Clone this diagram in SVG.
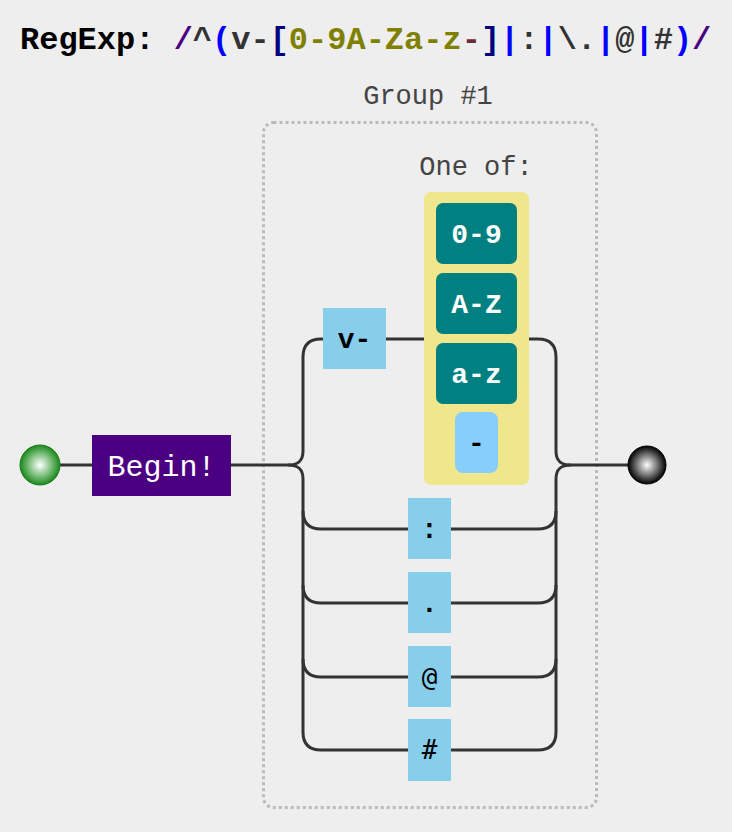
<svg xmlns="http://www.w3.org/2000/svg" width="732" height="832" viewBox="0 0 732 832">
<defs>
<radialGradient id="gStart" cx="50%" cy="50%" r="50%"><stop offset="0" stop-color="#ffffff"/><stop offset="1" stop-color="#1a8a1a"/></radialGradient>
<radialGradient id="gEnd" cx="50%" cy="50%" r="50%"><stop offset="0" stop-color="#ffffff"/><stop offset="1" stop-color="#000000"/></radialGradient>
<style>
text{font-family:"Liberation Mono","DejaVu Sans Mono",monospace;}
.conn{fill:none;stroke:#333;stroke-width:3;}
.lit{fill:#87ceeb;}
.cls{fill:#008080;}
.lbl{font-size:27px;fill:#444;text-anchor:middle;}
.lt{font-size:28px;font-weight:bold;fill:#000;text-anchor:middle;}
.ct{font-size:28px;font-weight:bold;fill:#fff;text-anchor:middle;}
</style>
</defs>
<rect width="732" height="832" fill="#eeeeee"/>
<g id="title">
<text x="20" y="49" font-size="32" font-weight="bold"><tspan fill="#000">RegExp: </tspan><tspan fill="#4b0082">/</tspan><tspan fill="#333">^</tspan><tspan fill="#0000ff">(</tspan><tspan fill="#333">v-</tspan><tspan fill="#000080">[</tspan><tspan fill="#808000">0-9A-Za-z</tspan><tspan fill="#6b2b3b">-</tspan><tspan fill="#000080">]</tspan><tspan fill="#0000ff">|</tspan><tspan fill="#333">:</tspan><tspan fill="#0000ff">|</tspan><tspan fill="#333">\.</tspan><tspan fill="#0000ff">|</tspan><tspan fill="#333">@</tspan><tspan fill="#0000ff">|</tspan><tspan fill="#333">#</tspan><tspan fill="#0000ff">)</tspan><tspan fill="#4b0082">/</tspan></text>
</g>
<g id="group1">
<rect x="263.5" y="122.5" width="333" height="685" rx="10" fill="none" stroke="#bbb" stroke-width="3" stroke-dasharray="3 3"/>
<text class="lbl" x="428" y="104">Group #1</text>
</g>
<g id="connectors">
<path class="conn" d="M60,465 H92"/>
<path class="conn" d="M231,465 H288 c10,0 15,-4 15,-14 V357 c0,-12 6,-18 18,-18 H323"/>
<path class="conn" d="M386,339 H424"/>
<path class="conn" d="M529,339 H538 c12,0 18,6 18,18 V451 c0,10 5,14 15,14 H628"/>
<path class="conn" d="M288,465 c10,0 15,4 15,14 V511 c0,12 6,18 18,18 H408 M451,529 H538 c12,0 18,-6 18,-18 V479 c0,-10 5,-14 15,-14"/>
<path class="conn" d="M303,511 V585 c0,12 6,18 18,18 H408 M451,603 H538 c12,0 18,-6 18,-18 V511"/>
<path class="conn" d="M303,585 V659 c0,12 6,18 18,18 H408 M451,677 H538 c12,0 18,-6 18,-18 V585"/>
<path class="conn" d="M303,659 V732 c0,12 6,18 18,18 H408 M451,750 H538 c12,0 18,-6 18,-18 V659"/>
</g>
<g id="start"><circle cx="40" cy="465" r="20" fill="url(#gStart)" stroke="#1a7a1a" stroke-width="1"/></g>
<g id="begin">
<rect x="92" y="435" width="139" height="61" fill="#4b0082"/>
<text x="161.5" y="476" font-size="30" fill="#fff" text-anchor="middle">Begin!</text>
</g>
<g id="lit-v">
<rect class="lit" x="323" y="308" width="63" height="61"/>
<text class="lt" x="354.5" y="348">v-</text>
</g>
<g id="oneof">
<text class="lbl" x="476" y="175">One of:</text>
<rect x="424" y="192" width="105" height="293" rx="7" fill="#f0e68c"/>
</g>
<g id="cls-09"><rect class="cls" x="436" y="203" width="81" height="61" rx="7"/><text class="ct" x="476.5" y="243">0-9</text></g>
<g id="cls-AZ"><rect class="cls" x="436" y="273" width="81" height="61" rx="7"/><text class="ct" x="476.5" y="313">A-Z</text></g>
<g id="cls-az"><rect class="cls" x="436" y="343" width="81" height="61" rx="7"/><text class="ct" x="476.5" y="383">a-z</text></g>
<g id="cls-dash"><rect x="455" y="412" width="43" height="61" rx="8" fill="#87cefa"/><text class="lt" x="476.5" y="452">-</text></g>
<g id="lit-colon"><rect class="lit" x="408" y="498" width="43" height="61"/><text class="lt" x="429.5" y="538">:</text></g>
<g id="lit-dot"><rect class="lit" x="408" y="572" width="43" height="61"/><text class="lt" x="429.5" y="612">.</text></g>
<g id="lit-at"><rect class="lit" x="408" y="646" width="43" height="61"/><text x="429.5" y="686" font-size="26" fill="#000" text-anchor="middle" style="font-family:'DejaVu Sans Mono',monospace">@</text></g>
<g id="lit-hash"><rect class="lit" x="408" y="719" width="43" height="62"/><text x="429.5" y="759" font-size="26" fill="#000" text-anchor="middle" style="font-family:'DejaVu Sans Mono',monospace">#</text></g>
<g id="end"><circle cx="647" cy="465" r="19" fill="url(#gEnd)" stroke="#000" stroke-width="1"/></g>
</svg>
